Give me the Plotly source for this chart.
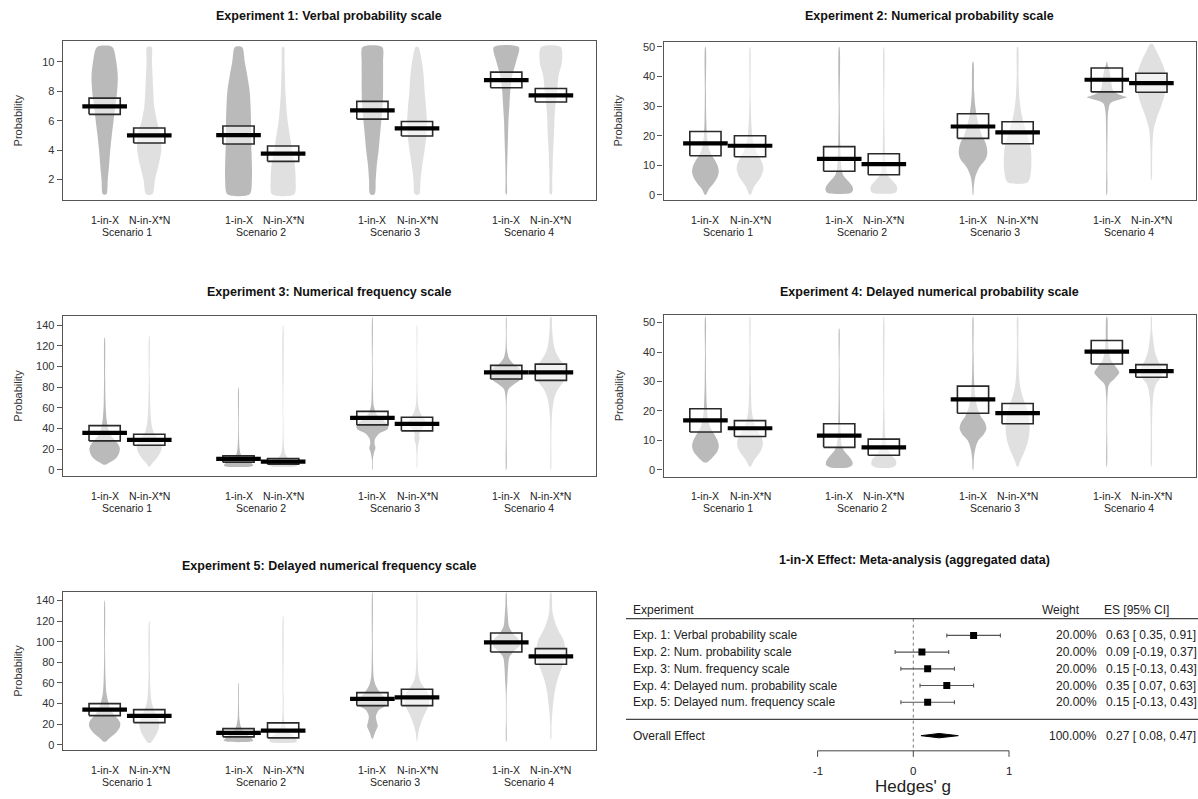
import plotly.graph_objects as go

FIG_W, FIG_H = 1198, 799
FONT = "Liberation Sans, Arial, sans-serif"

# ---------------- data ----------------
CONDITIONS = ["1-in-X", "N-in-X*N"]
SCENARIOS = ["Scenario 1", "Scenario 2", "Scenario 3", "Scenario 4"]

TITLES = [
    "Experiment 1: Verbal probability scale",
    "Experiment 2: Numerical probability scale",
    "Experiment 3: Numerical frequency scale",
    "Experiment 4: Delayed numerical probability scale",
    "Experiment 5: Delayed numerical frequency scale",
]
Y_TICKS = [
    [2, 4, 6, 8, 10],
    [0, 10, 20, 30, 40, 50],
    [0, 20, 40, 60, 80, 100, 120, 140],
    [0, 10, 20, 30, 40, 50],
    [0, 20, 40, 60, 80, 100, 120, 140],
]
Y_RANGES = [(0.58, 11.42), (-1.9, 51.8), (-5.8, 148.7), (-2.3, 52.5), (-4.8, 148.0)]

# order: S1 1-in-X, S1 N-in-X*N, S2 1-in-X, S2 N-in-X*N, ...
E1_MEAN = [6.97, 5.00, 5.02, 3.76, 6.70, 5.48, 8.76, 7.72]
E1_LO = [6.43, 4.49, 4.42, 3.24, 6.11, 4.96, 8.24, 7.27]
E1_HI = [7.53, 5.50, 5.64, 4.28, 7.31, 5.95, 9.30, 8.19]

E2_MEAN = [17.4, 16.6, 12.2, 10.4, 23.1, 21.1, 38.9, 37.8]
E2_LO = [13.2, 12.9, 8.0, 6.8, 19.1, 17.3, 34.8, 34.7]
E2_HI = [21.4, 20.0, 16.3, 13.9, 27.4, 24.7, 42.9, 41.1]

E3_MEAN = [35.7, 29.0, 10.6, 8.0, 50.2, 44.4, 94.3, 94.3]
E3_LO = [28.0, 23.8, 7.4, 5.5, 43.5, 37.7, 87.9, 86.6]
E3_HI = [42.8, 34.4, 13.5, 11.0, 56.6, 50.9, 101.1, 102.3]

E4_MEAN = [16.8, 14.1, 11.6, 7.6, 23.9, 19.2, 40.1, 33.5]
E4_LO = [12.8, 11.3, 7.6, 4.9, 19.2, 15.6, 35.9, 31.4]
E4_HI = [20.7, 16.7, 15.6, 10.4, 28.4, 22.5, 43.9, 35.7]

E5_MEAN = [34.2, 28.1, 11.6, 13.9, 44.5, 46.1, 99.4, 85.8]
E5_LO = [28.4, 21.6, 7.8, 6.8, 38.1, 38.1, 90.0, 78.1]
E5_HI = [40.0, 34.2, 15.8, 21.3, 50.7, 53.9, 108.4, 93.3]

# bean density outlines: [value, half-width in bean units]
E1_DENS = [
    [[1, .04], [2, .07], [3, .1], [4, .125], [5, .16], [6, .2], [7, .24], [8, .28], [9, .295], [10, .26], [11, .17]],
    [[1, .07], [2, .13], [3, .21], [4, .27], [5, .26], [6, .17], [7, .11], [8, .09], [9, .075], [10, .06], [11, .05]],
    [[1, .25], [2, .3], [3, .3], [4, .29], [5, .28], [6, .28], [7, .27], [8, .25], [9, .2], [10, .14], [11, .08]],
    [[1, .25], [2, .28], [3, .26], [4, .2], [5, .15], [6, .1], [7, .07], [8, .05], [9, .04], [10, .03], [11, .02]],
    [[1, .05], [2, .075], [3, .1], [4, .14], [5, .17], [6, .2], [7, .23], [8, .24], [9, .24], [10, .24], [11, .22]],
    [[1, .05], [2, .08], [3, .12], [4, .17], [5, .21], [6, .22], [7, .2], [8, .17], [9, .15], [10, .11], [11, .03]],
    [[1, .01], [2, .015], [3, .02], [4, .03], [5, .04], [6, .05], [7, .07], [8, .09], [9, .13], [10, .22], [11, .28]],
    [[1, .02], [2, .03], [3, .04], [4, .05], [5, .07], [6, .08], [7, .1], [8, .14], [9, .17], [10, .25], [11, .22]],
]
E2_DENS = [
    [[0, .01], [2, .08], [4, .19], [6, .27], [8, .3], [10, .27], [12, .2], [14, .12], [16, .07], [20, .035], [25, .02], [35, .012], [50, .006]],
    [[0, .01], [3, .1], [5, .2], [7, .27], [9, .3], [11, .27], [13, .2], [15, .13], [18, .07], [22, .04], [28, .02], [35, .01], [50, .005]],
    [[0.5, .22], [1, .29], [2, .31], [3, .29], [4, .24], [5, .18], [6, .12], [7, .08], [9, .05], [12, .035], [18, .02], [30, .012], [50, .006]],
    [[0.5, .2], [1, .28], [2, .3], [3, .29], [4, .24], [5, .18], [6, .12], [7, .08], [9, .05], [12, .03], [18, .02], [30, .01], [50, .005]],
    [[0, .005], [3, .02], [6, .05], [9, .13], [12, .28], [14, .32], [16, .31], [18, .27], [20, .2], [23, .14], [26, .09], [30, .05], [35, .025], [45, .008]],
    [[4, .2], [5, .26], [8, .3], [12, .31], [15, .3], [18, .26], [21, .2], [24, .14], [28, .08], [33, .04], [40, .02], [50, .01]],
    [[0, .005], [10, .01], [20, .015], [28, .03], [31, .08], [32.5, .35], [33, .45], [33.5, .35], [35, .15], [38, .1], [42, .06], [44, .02], [45, .005]],
    [[5, .005], [15, .02], [22, .05], [26, .12], [30, .22], [34, .3], [38, .33], [42, .3], [46, .2], [49, .1], [51, .03]],
]
E3_DENS = [
    [[5, .02], [8, .15], [12, .27], [17, .33], [21, .34], [25, .3], [30, .2], [35, .12], [42, .07], [50, .04], [65, .02], [90, .012], [128, .004]],
    [[3, .01], [7, .08], [12, .18], [18, .26], [22, .28], [26, .25], [31, .18], [36, .1], [42, .06], [50, .035], [65, .02], [90, .01], [130, .004]],
    [[3, .26], [4, .33], [6, .3], [8, .25], [10, .18], [12, .1], [15, .05], [20, .025], [30, .012], [45, .008], [80, .003]],
    [[3, .24], [4, .31], [6, .3], [8, .25], [10, .18], [12, .1], [15, .05], [20, .025], [30, .012], [50, .006], [140, .003]],
    [[0, .004], [10, .01], [17, .04], [21, .07], [25, .05], [30, .06], [35, .15], [39, .33], [42, .36], [46, .3], [50, .18], [55, .08], [62, .03], [75, .015], [100, .008], [148, .003]],
    [[2, .004], [15, .01], [25, .03], [30, .06], [35, .05], [40, .12], [44, .2], [48, .18], [53, .1], [58, .05], [65, .02], [80, .01], [110, .006], [140, .003]],
    [[0, .004], [40, .008], [70, .015], [78, .05], [83, .18], [88, .33], [93, .36], [98, .3], [103, .15], [108, .06], [115, .02], [130, .008], [148, .004]],
    [[0, .004], [30, .01], [50, .02], [60, .04], [70, .08], [78, .16], [85, .28], [93, .35], [100, .32], [107, .2], [115, .1], [125, .05], [140, .025], [148, .015]],
]
E4_DENS = [
    [[2.5, .03], [4, .15], [6, .26], [8, .3], [10, .27], [12, .2], [14, .12], [17, .06], [22, .03], [30, .015], [40, .01], [52, .005]],
    [[1, .01], [3, .08], [5, .18], [7, .26], [9, .29], [11, .26], [13, .18], [16, .09], [20, .04], [28, .02], [40, .01], [52, .005]],
    [[0.8, .2], [1.5, .29], [2.5, .3], [3.5, .27], [4.5, .22], [6, .13], [8, .06], [11, .035], [16, .02], [25, .012], [35, .008], [48, .004]],
    [[0.8, .18], [1.5, .27], [2.5, .28], [3.5, .26], [4.5, .2], [6, .12], [8, .06], [11, .03], [16, .02], [25, .01], [52, .004]],
    [[0, .005], [4, .02], [7, .05], [10, .12], [12, .24], [14, .3], [16, .27], [18, .18], [21, .1], [25, .05], [30, .025], [40, .012], [52, .005]],
    [[1, .01], [3, .06], [6, .15], [9, .22], [12, .26], [15, .27], [18, .25], [21, .2], [24, .13], [28, .06], [33, .03], [42, .015], [52, .008]],
    [[1, .004], [15, .008], [25, .015], [29, .05], [31, .18], [33, .28], [35, .2], [37, .1], [40, .05], [44, .025], [52, .008]],
    [[1, .005], [15, .015], [25, .04], [29, .1], [31, .2], [33, .25], [35, .22], [37, .15], [40, .08], [44, .04], [48, .015], [52, .008]],
]
E5_DENS = [
    [[3, .02], [7, .12], [12, .26], [17, .34], [21, .35], [25, .3], [30, .2], [36, .12], [42, .08], [50, .04], [65, .02], [90, .01], [140, .003]],
    [[2, .03], [6, .1], [12, .18], [18, .22], [22, .22], [27, .18], [32, .12], [40, .06], [50, .03], [70, .015], [120, .004]],
    [[3, .25], [4, .33], [6, .3], [8, .25], [11, .17], [14, .1], [18, .05], [25, .02], [40, .01], [60, .003]],
    [[2, .2], [3, .3], [5, .3], [8, .25], [11, .17], [14, .1], [18, .05], [25, .02], [50, .01], [125, .003]],
    [[6, .01], [12, .06], [18, .12], [22, .1], [28, .08], [34, .15], [38, .3], [42, .33], [46, .27], [52, .15], [58, .07], [65, .03], [80, .015], [100, .01], [148, .003]],
    [[4, .005], [12, .03], [20, .08], [28, .15], [36, .24], [44, .28], [50, .25], [56, .15], [62, .07], [70, .03], [90, .012], [148, .003]],
    [[3, .004], [30, .006], [50, .01], [62, .025], [75, .04], [85, .07], [91, .18], [96, .3], [102, .28], [108, .15], [115, .06], [125, .035], [135, .02], [148, .005]],
    [[5, .005], [20, .015], [35, .04], [50, .08], [62, .14], [72, .22], [82, .3], [92, .33], [102, .28], [110, .18], [118, .1], [128, .04], [148, .01]],
]

FOREST_LABELS = [
    "Exp. 1: Verbal probability scale",
    "Exp. 2: Num. probability scale",
    "Exp. 3: Num. frequency scale",
    "Exp. 4: Delayed num. probability scale",
    "Exp. 5: Delayed num. frequency scale",
]
FOREST_ES = [0.63, 0.09, 0.15, 0.35, 0.15]
FOREST_LO = [0.35, -0.19, -0.13, 0.07, -0.13]
FOREST_HI = [0.91, 0.37, 0.43, 0.63, 0.43]
FOREST_W = [20.0, 20.0, 20.0, 20.0, 20.0]
OVERALL_LABEL = "Overall Effect"
OVERALL_ES, OVERALL_LO, OVERALL_HI, OVERALL_W = 0.27, 0.08, 0.47, 100.0
FOREST_TICKS = [-1, 0, 1]

EXPS = [
    (E1_MEAN, E1_LO, E1_HI, E1_DENS),
    (E2_MEAN, E2_LO, E2_HI, E2_DENS),
    (E3_MEAN, E3_LO, E3_HI, E3_DENS),
    (E4_MEAN, E4_LO, E4_HI, E4_DENS),
    (E5_MEAN, E5_LO, E5_HI, E5_DENS),
]

# ---------------- layout geometry (pixels) ----------------
PANEL_PX = [
    (62.7, 595.5, 40.0, 200.0),
    (663.5, 1196.0, 40.7, 200.0),
    (62.7, 595.5, 316.0, 476.0),
    (663.5, 1196.0, 315.0, 476.7),
    (62.7, 595.5, 592.7, 750.7),
]
TITLE_Y = [15, 15, 292, 292, 566]
X_RANGE = [0.06, 12.0]
DARK = "rgba(160,160,160,0.72)"
LIGHT = "rgba(205,205,205,0.62)"


def fx(px):
    return px / FIG_W


def fy(py):
    return 1 - py / FIG_H


def bean_pos(i):
    return 3 * (i // 2) + (i % 2) + 1


def note(**kw):
    kw.setdefault("xanchor", "center")
    kw.setdefault("yanchor", "middle")
    kw.setdefault("showarrow", False)
    return kw


fig = go.Figure()
annotations = []
shapes = []
layout = {}

for k, (means, los, his, dens) in enumerate(EXPS):
    n = k + 1
    xa, ya = f"x{n}", f"y{n}"
    x0, x1, y0, y1 = PANEL_PX[k]
    # violins
    for i, prof in enumerate(dens):
        c = bean_pos(i)
        ys = [p[0] for p in prof]
        ws = [p[1] for p in prof]
        px = [c + w for w in ws] + [c - w for w in reversed(ws)] + [c + ws[0]]
        py = ys + ys[::-1] + [ys[0]]
        fig.add_trace(go.Scatter(
            x=px, y=py, xaxis=xa, yaxis=ya, mode="lines", fill="toself",
            fillcolor=DARK if i % 2 == 0 else LIGHT,
            line=dict(width=0, shape="spline", smoothing=0.8),
            hoverinfo="skip", showlegend=False))
    # CI boxes and mean bars
    for i in range(len(means)):
        c = bean_pos(i)
        fig.add_trace(go.Scatter(
            x=[c - .35, c + .35, c + .35, c - .35, c - .35],
            y=[los[i], los[i], his[i], his[i], los[i]],
            xaxis=xa, yaxis=ya, mode="lines", fill="toself",
            fillcolor="rgba(255,255,255,0.55)",
            line=dict(color="#2a2a2a", width=1.6),
            hoverinfo="skip", showlegend=False))
        fig.add_trace(go.Scatter(
            x=[c - .5, c + .5], y=[means[i], means[i]],
            xaxis=xa, yaxis=ya, mode="lines",
            line=dict(color="black", width=4.2),
            hoverinfo="skip", showlegend=False))
    axis_common = dict(showline=True, mirror=True, linecolor="#555", linewidth=1.2,
                       showgrid=False, zeroline=False)
    layout[f"xaxis{n}"] = dict(domain=[fx(x0), fx(x1)], range=X_RANGE, anchor=ya,
                               showticklabels=False, ticks="", **axis_common)
    layout[f"yaxis{n}"] = dict(domain=[fy(y1), fy(y0)], range=list(Y_RANGES[k]), anchor=xa,
                               tickvals=Y_TICKS[k], ticks="outside", ticklen=5,
                               tickcolor="#555", tickfont=dict(size=11, color="#333", family=FONT),
                               **axis_common)
    # category labels
    for i in range(len(means)):
        annotations.append(note(x=bean_pos(i), y=fy(y1 + 20), xref=xa, yref="paper",
                                text=CONDITIONS[i % 2],
                                font=dict(size=10.5, color="#222", family=FONT)))
    for s, name in enumerate(SCENARIOS):
        annotations.append(note(x=(bean_pos(2 * s) + bean_pos(2 * s + 1)) / 2, y=fy(y1 + 32),
                                xref=xa, yref="paper", text=name,
                                font=dict(size=10.5, color="#222", family=FONT)))
    annotations.append(note(x=fx((x0 + x1) / 2), y=fy(TITLE_Y[k]), xref="paper", yref="paper",
                            text=f"<b>{TITLES[k]}</b>",
                            font=dict(size=12.5, color="#111", family=FONT)))
    annotations.append(note(x=fx(x0 - 45), y=fy((y0 + y1) / 2), xref="paper", yref="paper",
                            text="Probability", textangle=-90,
                            font=dict(size=11, color="#333", family=FONT)))

# ---------------- forest plot ----------------
ROW_PX = 16.75
ROW0_PX = 636.0
G0_PX, G_UNIT = 913.3, 95.7


def rows(py):
    return (py - ROW0_PX) / ROW_PX


def gval(px):
    return (px - G0_PX) / G_UNIT


layout["xaxis6"] = dict(domain=[fx(600), 1], range=[gval(600), gval(1198)], anchor="y6", visible=False)
layout["yaxis6"] = dict(domain=[0, fy(540)], range=[rows(799), rows(540)], anchor="x6", visible=False)

nrow = len(FOREST_ES)
r_over = nrow + 1
r_axis = rows(751.7)
ftxt = dict(size=12, color="#222", family=FONT)

# zero reference line
fig.add_trace(go.Scatter(x=[0, 0], y=[-1, r_axis], xaxis="x6", yaxis="y6", mode="lines",
                         line=dict(color="#777", width=1, dash="dot"), hoverinfo="skip", showlegend=False))
# CIs and point estimates
fig.add_trace(go.Scatter(
    x=FOREST_ES, y=list(range(nrow)), xaxis="x6", yaxis="y6", mode="markers",
    marker=dict(symbol="square", size=7, color="black"),
    error_x=dict(type="data", symmetric=False,
                 array=[h - e for h, e in zip(FOREST_HI, FOREST_ES)],
                 arrayminus=[e - l for e, l in zip(FOREST_ES, FOREST_LO)],
                 color="#555", thickness=1.1, width=2),
    hoverinfo="skip", showlegend=False))
# overall diamond
fig.add_trace(go.Scatter(
    x=[OVERALL_LO, OVERALL_ES, OVERALL_HI, OVERALL_ES, OVERALL_LO],
    y=[r_over, r_over - 0.13, r_over, r_over + 0.13, r_over],
    xaxis="x6", yaxis="y6", mode="lines", fill="toself", fillcolor="black",
    line=dict(color="black", width=1), hoverinfo="skip", showlegend=False))

# table lines
for r in (-1.0, nrow + 0.03):
    shapes.append(dict(type="line", xref="x6", yref="y6", x0=gval(626), x1=gval(1198), y0=r, y1=r,
                       line=dict(color="#444", width=1.3)))
# x axis of forest
shapes.append(dict(type="line", xref="x6", yref="y6", x0=FOREST_TICKS[0], x1=FOREST_TICKS[-1],
                   y0=r_axis, y1=r_axis, line=dict(color="#444", width=1)))
for t in FOREST_TICKS:
    shapes.append(dict(type="line", xref="x6", yref="y6", x0=t, x1=t, y0=r_axis, y1=r_axis + 0.36,
                       line=dict(color="#444", width=1)))
    annotations.append(note(x=t, y=rows(771.5), xref="x6", yref="y6", text=str(t),
                            font=dict(size=11.5, color="#222", family=FONT)))
annotations.append(note(x=0, y=rows(787), xref="x6", yref="y6", text="Hedges' g",
                        font=dict(size=17, color="#222", family=FONT)))

# headers
X_LABEL_PX, X_WEIGHT_PX, X_ES_PX = 630.5, 1099.0, 1104.0
annotations.append(note(x=gval(X_LABEL_PX), y=rows(610.7), xref="x6", yref="y6", text="Experiment",
                        xanchor="left", font=ftxt))
annotations.append(note(x=gval(1061), y=rows(610.7), xref="x6", yref="y6", text="Weight", font=ftxt))
annotations.append(note(x=gval(X_ES_PX - 2), y=rows(610.7), xref="x6", yref="y6", text="ES [95% CI]",
                        xanchor="left", font=ftxt))


def es_text(e, l, h):
    return f"{e:.2f} [{l:5.2f}, {h:.2f}]"


all_rows = [(FOREST_LABELS[i], FOREST_W[i], FOREST_ES[i], FOREST_LO[i], FOREST_HI[i], i) for i in range(nrow)]
all_rows.append((OVERALL_LABEL, OVERALL_W, OVERALL_ES, OVERALL_LO, OVERALL_HI, r_over))
for lab, w, e, l, h, r in all_rows:
    annotations.append(note(x=gval(X_LABEL_PX), y=r, xref="x6", yref="y6", text=lab, xanchor="left",
                            font=ftxt))
    annotations.append(note(x=gval(X_WEIGHT_PX), y=r, xref="x6", yref="y6", text=f"{w:.2f}%",
                            xanchor="right", font=ftxt))
    annotations.append(note(x=gval(X_ES_PX), y=r, xref="x6", yref="y6", text=es_text(e, l, h),
                            xanchor="left", font=ftxt))

annotations.append(note(x=fx(915), y=fy(560), xref="paper", yref="paper",
                        text="<b>1-in-X Effect: Meta-analysis (aggregated data)</b>",
                        font=dict(size=12.5, color="#111", family=FONT)))

fig.update_layout(
    width=FIG_W, height=FIG_H, margin=dict(l=0, r=0, t=0, b=0),
    paper_bgcolor="white", plot_bgcolor="white",
    font=dict(family=FONT), showlegend=False,
    annotations=annotations, shapes=shapes, **layout)

fig.write_html("out.html")
